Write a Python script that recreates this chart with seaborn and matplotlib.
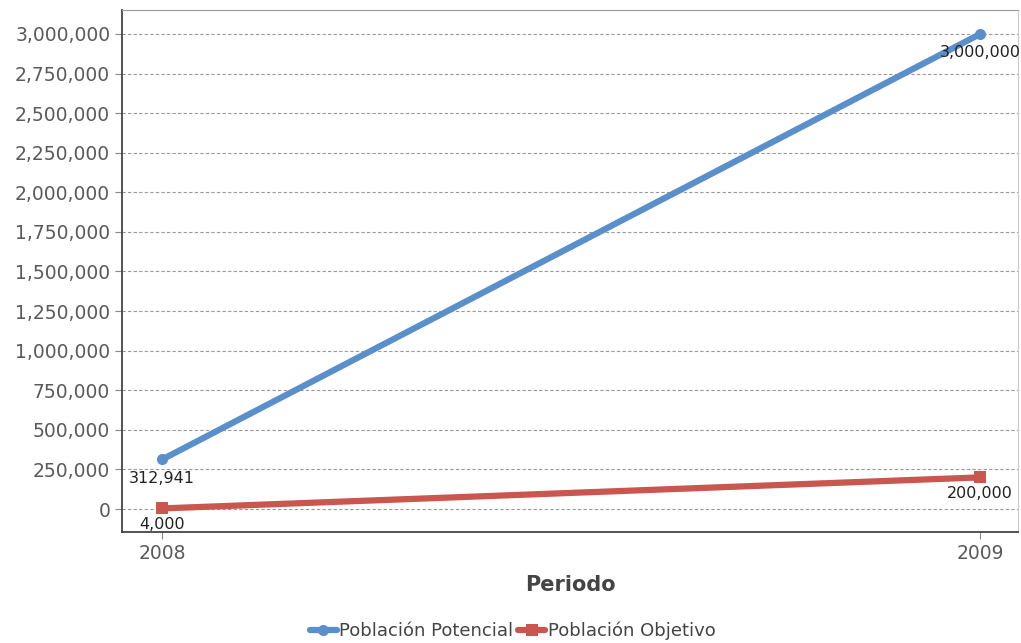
import pandas as pd
import matplotlib.pyplot as plt
import matplotlib.ticker as mticker
import seaborn as sns

periodos = [2008, 2009]
poblacion_potencial = [312941, 3000000]
poblacion_objetivo = [4000, 200000]
series = ['Población Potencial', 'Población Objetivo']
colores = ['#5B8FCA', '#C9574F']

df = pd.DataFrame({
    'Periodo': periodos * 2,
    'Valor': poblacion_potencial + poblacion_objetivo,
    'Serie': [series[0]] * 2 + [series[1]] * 2,
})

sns.set_style('white')
plt.rcParams['font.family'] = ['DejaVu Sans']

fig = plt.figure(figsize=(10.21, 6.43), dpi=100)
ax = fig.add_axes([0.1195, 0.1726, 0.8775, 0.8118])

sns.lineplot(data=df, x='Periodo', y='Valor', hue='Serie', style='Serie',
             palette=colores, markers=['o', 's'], dashes=False,
             linewidth=4.5, markersize=8, markeredgewidth=0, ax=ax)

# etiquetas de datos
for x, y in zip(periodos, poblacion_potencial):
    ax.annotate(f'{y:,}', (x, y), xytext=(0, -8), textcoords='offset points',
                ha='center', va='top', fontsize=11.5, color='#222222')
for x, y in zip(periodos, poblacion_objetivo):
    ax.annotate(f'{y:,}', (x, y), xytext=(0, -6), textcoords='offset points',
                ha='center', va='top', fontsize=11.5, color='#222222')

ax.set_xlim(2007.951, 2009.046)
ax.set_ylim(-145000, 3151000)
ax.set_xticks(periodos)
ax.set_yticks(range(0, 3000001, 250000))
ax.yaxis.set_major_formatter(mticker.FuncFormatter(lambda v, p: f'{int(v):,}'))
ax.grid(axis='y', linestyle=(0, (3, 2)), color='#999999', linewidth=0.8)
ax.tick_params(axis='both', labelsize=13.5, labelcolor='#5a5a5a', length=5,
               color='#888888', direction='out', left=True, bottom=True)
ax.set_ylabel('')
ax.set_xlabel('Periodo', fontsize=15, fontweight='bold', color='#444444', labelpad=9)

for s in ['left', 'bottom']:
    ax.spines[s].set_color('#444444')
    ax.spines[s].set_linewidth(1.3)
ax.spines['top'].set_color('#999999')
ax.spines['right'].set_color('#cccccc')

handles, labels = ax.get_legend_handles_labels()
ax.legend(handles, labels, loc='upper center', bbox_to_anchor=(0.436, -0.141),
          ncol=2, frameon=False, fontsize=13, handlelength=1.5,
          handletextpad=0.15, columnspacing=0.25, labelcolor='#444444')

fig.savefig('out.png', dpi=100)
